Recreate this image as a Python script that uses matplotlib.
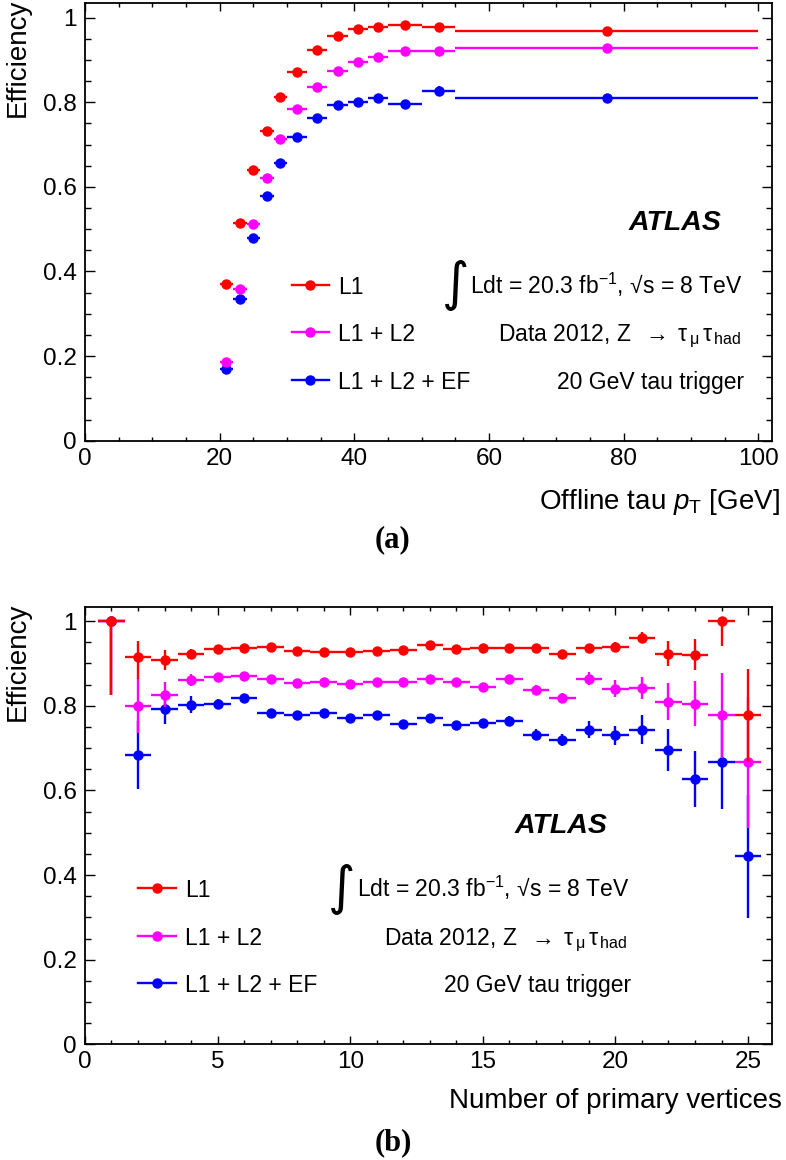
import numpy as np
import matplotlib
matplotlib.use("Agg")
import matplotlib.pyplot as plt
from matplotlib.ticker import MultipleLocator, FormatStrFormatter

plt.rcParams['font.family'] = ['Liberation Sans', 'DejaVu Sans']
plt.rcParams['mathtext.fontset'] = 'custom'
plt.rcParams['mathtext.rm'] = 'Liberation Sans'
plt.rcParams['mathtext.it'] = 'Liberation Sans:italic'
plt.rcParams['mathtext.bf'] = 'Liberation Sans:bold'

# (a) efficiency vs offline tau pT
pt_edges = [20, 22, 24, 26, 28, 30, 33, 36, 39, 42, 45, 50, 55, 100]
pt_l1 = [0.370, 0.514, 0.641, 0.731, 0.812, 0.872, 0.924, 0.957, 0.972,
         0.977, 0.982, 0.979, 0.968]
pt_l1_err = [0.006, 0.005, 0.005, 0.004, 0.004, 0.003, 0.003, 0.003, 0.003,
             0.003, 0.003, 0.004, 0.003]
pt_l12 = [0.187, 0.359, 0.512, 0.620, 0.712, 0.784, 0.837, 0.874, 0.894,
          0.908, 0.920, 0.920, 0.928]
pt_l12_err = [0.006, 0.006, 0.005, 0.005, 0.005, 0.004, 0.004, 0.004, 0.004,
              0.004, 0.004, 0.006, 0.003]
pt_ef = [0.169, 0.334, 0.480, 0.578, 0.656, 0.719, 0.762, 0.794, 0.801,
         0.809, 0.796, 0.827, 0.811]
pt_ef_err = [0.006, 0.006, 0.006, 0.006, 0.006, 0.005, 0.005, 0.005, 0.006,
             0.006, 0.006, 0.012, 0.006]

# (b) efficiency vs number of primary vertices
nvtx = list(range(1, 26))
vtx_l1 = [1.000, 0.914, 0.908, 0.923, 0.934, 0.936, 0.939, 0.930, 0.927,
          0.928, 0.930, 0.931, 0.944, 0.934, 0.936, 0.937, 0.936, 0.923,
          0.937, 0.939, 0.961, 0.923, 0.921, 1.000, 0.777]
vtx_l1_lo = [0.174, 0.050, 0.024, 0.012, 0.006, 0.005, 0.005, 0.005, 0.005,
             0.005, 0.005, 0.005, 0.006, 0.006, 0.006, 0.007, 0.007, 0.008,
             0.009, 0.011, 0.013, 0.030, 0.037, 0.058, 0.110]
vtx_l1_hi = [0.000, 0.040, 0.024, 0.012, 0.006, 0.005, 0.005, 0.005, 0.005,
             0.005, 0.005, 0.005, 0.006, 0.006, 0.006, 0.007, 0.007, 0.008,
             0.009, 0.011, 0.013, 0.030, 0.037, 0.000, 0.110]
vtx_l12 = [1.000, 0.800, 0.826, 0.861, 0.869, 0.871, 0.863, 0.853, 0.855,
           0.851, 0.855, 0.855, 0.863, 0.856, 0.845, 0.864, 0.838, 0.818,
           0.864, 0.840, 0.842, 0.810, 0.805, 0.777, 0.666]
vtx_l12_lo = [0.174, 0.065, 0.030, 0.015, 0.008, 0.007, 0.007, 0.007, 0.007,
              0.007, 0.007, 0.007, 0.008, 0.008, 0.008, 0.009, 0.010, 0.012,
              0.015, 0.020, 0.025, 0.043, 0.054, 0.100, 0.155]
vtx_l12_hi = [0.000, 0.065, 0.030, 0.015, 0.008, 0.007, 0.007, 0.007, 0.007,
              0.007, 0.007, 0.007, 0.008, 0.008, 0.008, 0.009, 0.010, 0.012,
              0.015, 0.020, 0.025, 0.043, 0.054, 0.100, 0.155]
vtx_ef = [1.000, 0.684, 0.792, 0.802, 0.805, 0.818, 0.782, 0.777, 0.784,
          0.771, 0.778, 0.756, 0.772, 0.755, 0.759, 0.765, 0.732, 0.719,
          0.743, 0.730, 0.743, 0.696, 0.626, 0.666, 0.444]
vtx_ef_lo = [0.174, 0.080, 0.035, 0.020, 0.012, 0.009, 0.008, 0.008, 0.008,
             0.008, 0.008, 0.008, 0.009, 0.009, 0.010, 0.010, 0.012, 0.015,
             0.020, 0.022, 0.034, 0.050, 0.066, 0.110, 0.146]
vtx_ef_hi = [0.000, 0.080, 0.035, 0.020, 0.012, 0.009, 0.008, 0.008, 0.008,
             0.008, 0.008, 0.008, 0.009, 0.009, 0.010, 0.010, 0.012, 0.015,
             0.020, 0.022, 0.034, 0.050, 0.066, 0.110, 0.146]

labels = ["L1", "L1 + L2", "L1 + L2 + EF"]
colors = ["#ff0000", "#ff00ff", "#0000ff"]

FS = 16.5


def draw_series(ax, x, xerr, ys, errs):
    # blue first, red last (red sits on top)
    for i in [2, 1, 0]:
        lo, hi = errs[i]
        ax.errorbar(x, ys[i], yerr=[lo, hi], xerr=xerr, fmt='o',
                    color=colors[i], ms=6.5, elinewidth=1.7, capsize=0,
                    zorder=3 + (2 - i))


def decorate(ax, xmaj, xmin, xlabel, lx, ly):
    ax.set_ylim(0, 1.034)
    ax.xaxis.set_major_locator(MultipleLocator(xmaj))
    ax.xaxis.set_minor_locator(MultipleLocator(xmin))
    ax.yaxis.set_major_locator(MultipleLocator(0.2))
    ax.yaxis.set_minor_locator(MultipleLocator(0.05))
    ax.xaxis.set_major_formatter(FormatStrFormatter('%g'))
    ax.yaxis.set_major_formatter(FormatStrFormatter('%g'))
    ax.tick_params(which='both', direction='in', top=True, right=True,
                   width=1.0, labelsize=17.5)
    ax.tick_params(axis='x', which='major', length=6, pad=5)
    ax.tick_params(axis='x', which='minor', length=3)
    ax.tick_params(axis='y', which='major', length=7.5, pad=6)
    ax.tick_params(axis='y', which='minor', length=4)
    for sp in ax.spines.values():
        sp.set_linewidth(1.3)
    ax.set_ylabel("Efficiency", fontsize=20, loc='top')
    ax.yaxis.set_label_coords(-0.079, 1.01)
    ax.set_xlabel(xlabel, fontsize=20, loc='right')
    ax.xaxis.set_label_coords(lx, ly)


def legend_block(ax, x0, x1, xt, xr, xa, rows):
    for i, yy in enumerate(rows):
        ym = yy + 0.0205
        ax.plot([x0, x1], [ym, ym], color=colors[i], lw=1.7,
                transform=ax.transAxes)
        ax.plot([(x0 + x1) / 2], [ym], 'o', color=colors[i], ms=6.5,
                transform=ax.transAxes)
        ax.text(xt, yy, labels[i], fontsize=FS, va='baseline', ha='left',
                transform=ax.transAxes)
    t1 = ax.text(xr, rows[0], "Ldt = 20.3 fb$^{-1}$, \u221as = 8 TeV",
                 fontsize=FS, va='baseline', ha='right', transform=ax.transAxes)
    ax.text(xr - 0.003, rows[1],
            r"Data 2012, Z $\;\rightarrow\;\mathrm{\tau}_{\,\mathrm{\mu}}"
            r"\,\mathrm{\tau}_{\,\mathrm{had}}$",
            fontsize=FS, va='baseline', ha='right', transform=ax.transAxes)
    ax.text(xr + 0.002, rows[2], "20 GeV tau trigger", fontsize=FS,
            va='baseline', ha='right', transform=ax.transAxes)
    ax.text(xa, 0.482, "ATLAS", fontsize=20.5, fontweight='bold',
            fontstyle='italic', va='baseline', ha='right',
            transform=ax.transAxes)
    return t1


fig = plt.figure(figsize=(7.86, 11.6), dpi=100)
ax1 = fig.add_axes([0.1081, 0.6201, 0.874, 0.3771])
ax2 = fig.add_axes([0.1081, 0.0996, 0.874, 0.3774])

edges = np.array(pt_edges)
pt_c = (edges[1:] + edges[:-1]) / 2
pt_w = (edges[1:] - edges[:-1]) / 2
draw_series(ax1, pt_c, pt_w, [pt_l1, pt_l12, pt_ef],
            [(pt_l1_err, pt_l1_err), (pt_l12_err, pt_l12_err),
             (pt_ef_err, pt_ef_err)])
ax1.set_xlim(0, 102)
decorate(ax1, 20, 5, r"Offline tau $p_{\mathrm{T}}$ [GeV]", 1.011, -0.106)

draw_series(ax2, nvtx, 0.5, [vtx_l1, vtx_l12, vtx_ef],
            [(vtx_l1_lo, vtx_l1_hi), (vtx_l12_lo, vtx_l12_hi),
             (vtx_ef_lo, vtx_ef_hi)])
ax2.set_xlim(0, 25.9)
decorate(ax2, 5, 1, "Number of primary vertices", 1.014, -0.100)

rows = [0.336, 0.227, 0.119]
ta = legend_block(ax1, 0.301, 0.355, 0.368, 0.958, 0.927, rows)
tb = legend_block(ax2, 0.0771, 0.1325, 0.1456, 0.793, 0.760, rows)

# big integral sign in front of the luminosity line
fig.canvas.draw()
for ax, t in [(ax1, ta), (ax2, tb)]:
    bb = t.get_window_extent()
    x0, _ = ax.transAxes.inverted().transform((bb.x0, bb.y0))
    ax.text(x0 - 0.002, 0.356, "\u222b", fontsize=38, ha='right', va='center',
            family=['DejaVu Sans'], transform=ax.transAxes)

fig.text(0.5, 0.5345, "(a)", fontsize=22, fontweight='bold',
         family='Liberation Serif', ha='center', va='center')
fig.text(0.5, 0.0147, "(b)", fontsize=22, fontweight='bold',
         family='Liberation Serif', ha='center', va='center')

fig.savefig("out.png", dpi=100)
